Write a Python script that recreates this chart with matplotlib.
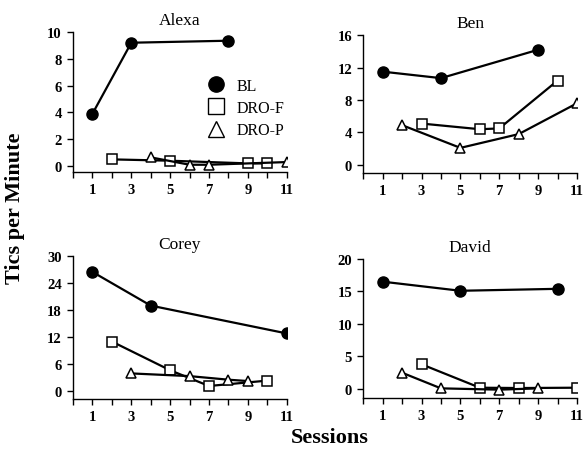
import matplotlib
matplotlib.use("Agg")
import matplotlib.pyplot as plt
from matplotlib.lines import Line2D
from matplotlib.ticker import MultipleLocator

plt.rcParams['font.family'] = ['Liberation Serif', 'DejaVu Serif']

names = ["Alexa", "Ben", "Corey", "David"]

alexa_bl_x = [1, 3, 8]
alexa_bl_y = [3.9, 9.2, 9.35]
alexa_f_x = [2, 5, 9, 10]
alexa_f_y = [0.5, 0.4, 0.2, 0.2]
alexa_p_x = [4, 6, 7, 11]
alexa_p_y = [0.65, 0.1, 0.1, 0.3]

ben_bl_x = [1, 4, 9]
ben_bl_y = [11.5, 10.7, 14.2]
ben_f_x = [3, 6, 7, 10]
ben_f_y = [5.1, 4.4, 4.5, 10.4]
ben_p_x = [2, 5, 8, 11]
ben_p_y = [4.9, 2.1, 3.8, 7.6]

corey_bl_x = [1, 4, 11]
corey_bl_y = [26.5, 19.0, 12.8]
corey_f_x = [2, 5, 7, 10]
corey_f_y = [11.0, 4.6, 1.1, 2.3]
corey_p_x = [3, 6, 8, 9]
corey_p_y = [3.9, 3.3, 2.5, 2.2]

david_bl_x = [1, 5, 10]
david_bl_y = [16.5, 15.1, 15.4]
david_f_x = [3, 6, 8, 11]
david_f_y = [3.8, 0.2, 0.15, 0.2]
david_p_x = [2, 4, 7, 9]
david_p_y = [2.5, 0.1, -0.1, 0.1]

yticks = {"Alexa": [0, 2, 4, 6, 8, 10], "Ben": [0, 4, 8, 12, 16],
          "Corey": [0, 6, 12, 18, 24, 30], "David": [0, 5, 10, 15, 20]}
ylims = {"Alexa": (-0.45, 10), "Ben": (-1.0, 16), "Corey": (-1.8, 30), "David": (-1.4, 20)}
xticks = [1, 3, 5, 7, 9, 11]

data = {
    "Alexa": ((alexa_bl_x, alexa_bl_y), (alexa_f_x, alexa_f_y), (alexa_p_x, alexa_p_y)),
    "Ben": ((ben_bl_x, ben_bl_y), (ben_f_x, ben_f_y), (ben_p_x, ben_p_y)),
    "Corey": ((corey_bl_x, corey_bl_y), (corey_f_x, corey_f_y), (corey_p_x, corey_p_y)),
    "David": ((david_bl_x, david_bl_y), (david_f_x, david_f_y), (david_p_x, david_p_y)),
}

positions = {
    "Alexa": [0.125, 0.617, 0.366, 0.310],
    "Ben": [0.622, 0.615, 0.366, 0.305],
    "Corey": [0.125, 0.115, 0.366, 0.316],
    "David": [0.622, 0.117, 0.366, 0.308],
}

fig = plt.figure(figsize=(5.84, 4.52), dpi=100)

for name in names:
    ax = fig.add_axes(positions[name])
    (bx, by), (fx, fy), (px, py) = data[name]
    ax.plot(bx, by, color='black', lw=1.6, marker='o', ms=8, mfc='black', mec='black', zorder=3)
    ax.plot(fx, fy, color='black', lw=1.6, marker='s', ms=7, mfc='white', mec='black', mew=1.1, zorder=3)
    ax.plot(px, py, color='black', lw=1.6, marker='^', ms=6.5, mfc='white', mec='black', mew=1.1, zorder=3)
    ax.set_xlim(0, 11)
    ax.set_ylim(*ylims[name])
    ax.set_xticks(xticks)
    ax.xaxis.set_minor_locator(MultipleLocator(1))
    ax.set_yticks(yticks[name])
    ax.spines['top'].set_visible(False)
    ax.spines['right'].set_visible(False)
    ax.spines['left'].set_linewidth(1.0)
    ax.spines['bottom'].set_linewidth(1.0)
    ax.tick_params(axis='both', which='major', direction='out', length=4, width=1.0,
                   labelsize=10.5, pad=4)
    ax.tick_params(axis='x', which='minor', direction='out', length=4, width=1.0)
    for lab in ax.get_xticklabels() + ax.get_yticklabels():
        lab.set_fontweight('bold')
    ax.set_title(name, fontsize=12.5, pad=6)
    if name == "Alexa":
        handles = [
            Line2D([], [], ls='none', marker='o', ms=11, mfc='black', mec='black'),
            Line2D([], [], ls='none', marker='s', ms=11, mfc='white', mec='black', mew=1.0),
            Line2D([], [], ls='none', marker='^', ms=11, mfc='white', mec='black', mew=1.0),
        ]
        leg = ax.legend(handles, ["BL", "DRO-F", "DRO-P"], loc='upper left',
                        bbox_to_anchor=(0.6, 0.72), frameon=False, fontsize=11.5,
                        handlelength=1.0, handletextpad=0.8, labelspacing=0.4,
                        borderaxespad=0)

fig.text(0.026, 0.54, "Tics per Minute", rotation=90, ha='center', va='center',
         fontsize=16, fontweight='bold')
fig.text(0.565, 0.030, "Sessions", ha='center', va='center', fontsize=16, fontweight='bold')

fig.savefig("out.png", dpi=100)
